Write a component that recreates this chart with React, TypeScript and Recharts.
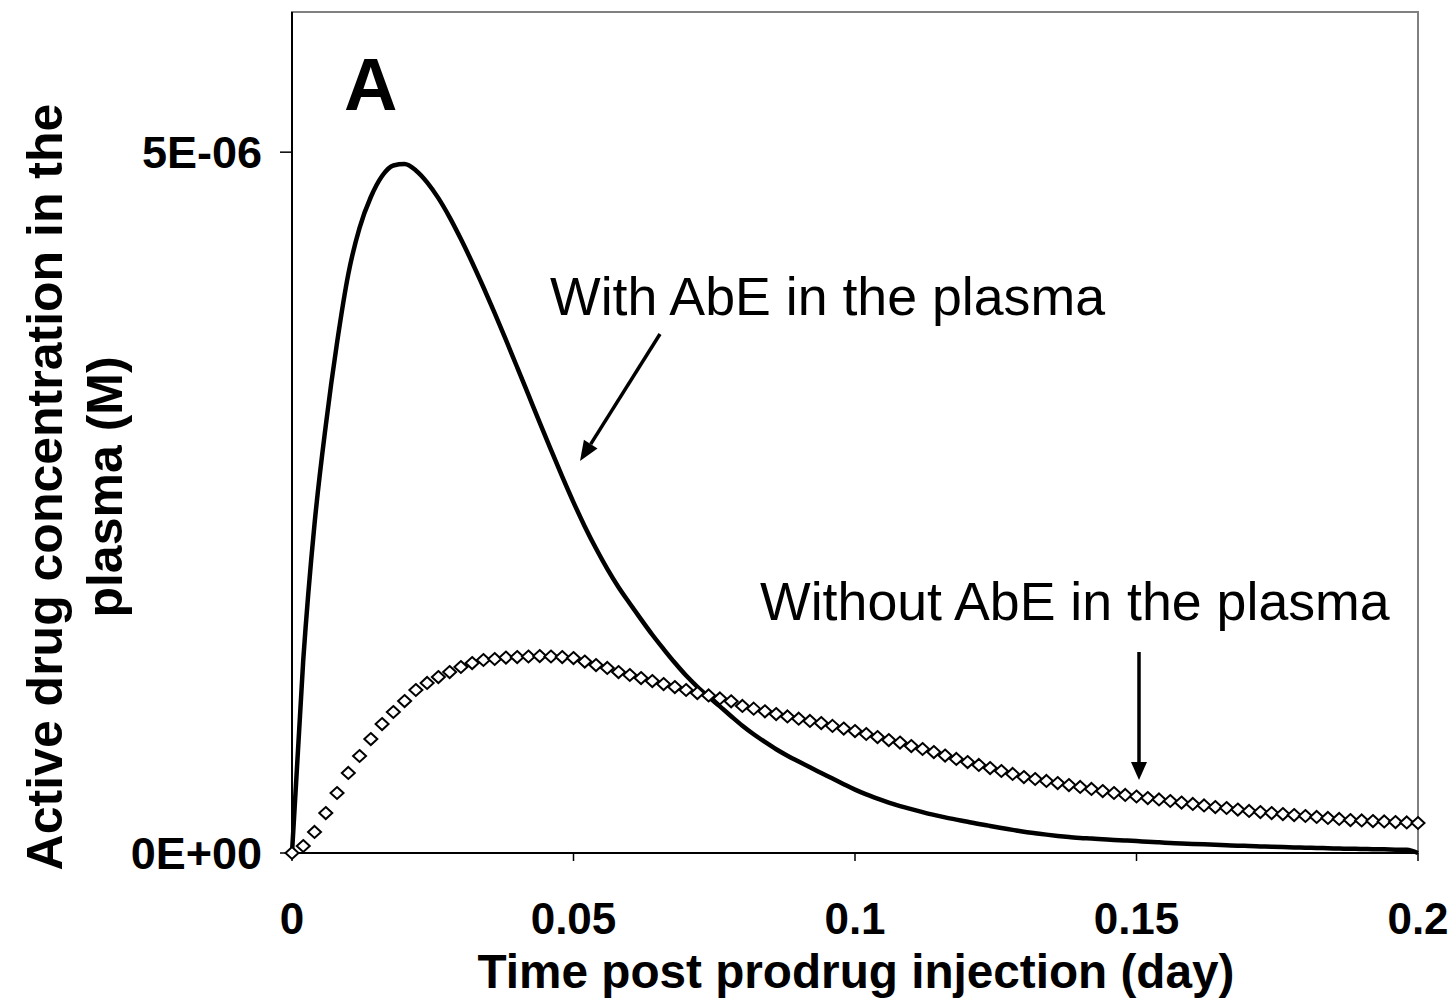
import React from 'react';
import { LineChart, Line, XAxis, YAxis, ReferenceArea } from 'recharts';

// time post prodrug injection (day), sampled every 0.002 day
const timeDays = [
  0, 0.002, 0.004, 0.006, 0.008, 0.01, 0.012, 0.014, 0.016, 0.018,
  0.02, 0.022, 0.024, 0.026, 0.028, 0.03, 0.032, 0.034, 0.036, 0.038,
  0.04, 0.042, 0.044, 0.046, 0.048, 0.05, 0.052, 0.054, 0.056, 0.058,
  0.06, 0.062, 0.064, 0.066, 0.068, 0.07, 0.072, 0.074, 0.076, 0.078,
  0.08, 0.082, 0.084, 0.086, 0.088, 0.09, 0.092, 0.094, 0.096, 0.098,
  0.1, 0.102, 0.104, 0.106, 0.108, 0.11, 0.112, 0.114, 0.116, 0.118,
  0.12, 0.122, 0.124, 0.126, 0.128, 0.13, 0.132, 0.134, 0.136, 0.138,
  0.14, 0.142, 0.144, 0.146, 0.148, 0.15, 0.152, 0.154, 0.156, 0.158,
  0.16, 0.162, 0.164, 0.166, 0.168, 0.17, 0.172, 0.174, 0.176, 0.178,
  0.18, 0.182, 0.184, 0.186, 0.188, 0.19, 0.192, 0.194, 0.196, 0.198,
  0.2,
];

// active drug concentration, in µM (converted to M below)
const withAbE = [
  0, 1.377, 2.347, 3.05, 3.64, 4.13, 4.46, 4.68, 4.83, 4.905,
  4.915, 4.87, 4.785, 4.672, 4.535, 4.38, 4.213, 4.036, 3.851, 3.66,
  3.465, 3.268, 3.071, 2.876, 2.685, 2.502, 2.33, 2.172, 2.027, 1.896,
  1.78, 1.667, 1.557, 1.455, 1.357, 1.266, 1.186, 1.114, 1.046, 0.976,
  0.908, 0.847, 0.792, 0.74, 0.694, 0.652, 0.611, 0.571, 0.531, 0.491,
  0.452, 0.418, 0.388, 0.36, 0.335, 0.313, 0.292, 0.272, 0.254, 0.238,
  0.223, 0.207, 0.193, 0.179, 0.165, 0.151, 0.141, 0.131, 0.122, 0.114,
  0.107, 0.103, 0.098, 0.093, 0.089, 0.085, 0.08, 0.076, 0.072, 0.068,
  0.065, 0.062, 0.058, 0.055, 0.052, 0.05, 0.047, 0.044, 0.042, 0.04,
  0.038, 0.036, 0.034, 0.032, 0.03, 0.029, 0.027, 0.026, 0.024, 0.023,
  0,
];

const withoutAbE = [
  0, 0.05, 0.15, 0.285, 0.428, 0.571, 0.692, 0.813, 0.92, 1.006,
  1.084, 1.163, 1.213, 1.255, 1.291, 1.327, 1.355, 1.377, 1.384, 1.394,
  1.398, 1.402, 1.405, 1.402, 1.398, 1.391, 1.366, 1.341, 1.32, 1.291,
  1.27, 1.248, 1.227, 1.205, 1.184, 1.163, 1.141, 1.124, 1.103, 1.082,
  1.049, 1.03, 1.011, 0.991, 0.974, 0.958, 0.942, 0.927, 0.907, 0.888,
  0.87, 0.849, 0.827, 0.806, 0.788, 0.763, 0.742, 0.72, 0.695, 0.671,
  0.649, 0.628, 0.606, 0.585, 0.564, 0.542, 0.528, 0.514, 0.499, 0.485,
  0.471, 0.457, 0.442, 0.428, 0.414, 0.403, 0.392, 0.382, 0.371, 0.36,
  0.35, 0.339, 0.328, 0.321, 0.31, 0.3, 0.292, 0.285, 0.278, 0.271,
  0.264, 0.257, 0.25, 0.243, 0.235, 0.232, 0.228, 0.225, 0.221, 0.218,
  0.214,
];

const xTicks = [0, 0.05, 0.1, 0.15, 0.2];
const yTicks = [0, 5e-6];
const yTickLabels = ['0E+00', '5E-06'];

const FONT = '"Liberation Sans", Arial, sans-serif';

const rows = timeDays.map((t, i) => ({
  t,
  withAbE: withAbE[i] * 1e-6,
  withoutAbE: withoutAbE[i] * 1e-6,
}));

// hollow diamond marker used by the "without AbE" series
const Diamond = (props: any) => {
  const { cx, cy, index } = props;
  if (cx == null || cy == null) return <g key={`d-${index}`} />;
  const w = 6.5;
  const h = 6;
  return (
    <path
      key={`d-${index}`}
      d={`M${cx},${cy - h}L${cx + w},${cy}L${cx},${cy + h}L${cx - w},${cy}Z`}
      fill="#fff"
      stroke="#000"
      strokeWidth={2}
    />
  );
};

export default function App() {
  return (
    <div style={{ position: 'absolute', left: 0, top: 0, width: 1455, height: 1004, background: '#fff' }}>
      <LineChart
        width={1455}
        height={1004}
        data={rows}
        margin={{ top: 12, right: 37, bottom: 0, left: 0 }}
      >
        <ReferenceArea x1={0} x2={0.2} y1={0} y2={6e-6} fill="none" stroke="#808080" strokeWidth={2} />
        <XAxis
          dataKey="t"
          type="number"
          domain={[0, 0.2]}
          ticks={xTicks}
          interval={0}
          height={151}
          tickFormatter={(v: number) => String(v)}
          axisLine={{ stroke: '#000', strokeWidth: 2 }}
          tickLine={{ stroke: '#000', strokeWidth: 1.5 }}
          tickSize={8}
          tickMargin={42}
          tick={{ fill: '#000', fontSize: 44, fontWeight: 'bold', fontFamily: FONT }}
        />
        <YAxis
          type="number"
          domain={[0, 6e-6]}
          ticks={yTicks}
          interval={0}
          width={292}
          tickFormatter={(_v: number, i: number) => yTickLabels[i]}
          axisLine={{ stroke: '#000', strokeWidth: 2 }}
          tickLine={{ stroke: '#000', strokeWidth: 1.5 }}
          tickSize={12}
          tickMargin={18}
          tick={{ fill: '#000', fontSize: 45, fontWeight: 'bold', fontFamily: FONT }}
        />
        <Line
          dataKey="withoutAbE"
          type="monotone"
          stroke="none"
          dot={Diamond}
          activeDot={false}
          isAnimationActive={false}
        />
        <Line
          dataKey="withAbE"
          type="monotone"
          stroke="#000"
          strokeWidth={4.5}
          dot={false}
          activeDot={false}
          isAnimationActive={false}
        />
      </LineChart>

      <svg
        width={1455}
        height={1004}
        style={{ position: 'absolute', left: 0, top: 0, pointerEvents: 'none' }}
        fontFamily={FONT}
      >
        <text x={344} y={110} fontSize={74} fontWeight="bold" fill="#000">A</text>

        <text x={550} y={315} fontSize={53.7} fill="#000">With AbE in the plasma</text>
        <line x1={660} y1={334} x2={590.7} y2={444.1} stroke="#000" strokeWidth={3.5} />
        <polygon points="580,461 597.5,448.4 583.9,439.8" fill="#000" />

        <text x={760} y={620} fontSize={53.7} fill="#000">Without AbE in the plasma</text>
        <line x1={1139} y1={652} x2={1139} y2={764} stroke="#000" strokeWidth={3.5} />
        <polygon points="1139,780 1131,762 1147,762" fill="#000" />

        <text transform="translate(62,487) rotate(-90)" textAnchor="middle" fontSize={50} fontWeight="bold" fill="#000">
          Active drug concentration in the
        </text>
        <text transform="translate(122,487) rotate(-90)" textAnchor="middle" fontSize={50} fontWeight="bold" fill="#000">
          plasma (M)
        </text>

        <text x={856} y={988} textAnchor="middle" fontSize={47.7} fontWeight="bold" fill="#000">
          Time post prodrug injection (day)
        </text>
      </svg>
    </div>
  );
}
